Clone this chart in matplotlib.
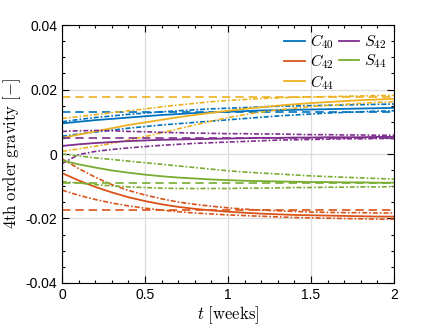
import numpy as np
import matplotlib
matplotlib.use("Agg")
import matplotlib.pyplot as plt
from matplotlib.ticker import MultipleLocator, FixedLocator, FixedFormatter

plt.rcParams['font.family'] = ['Liberation Sans', 'DejaVu Sans']
plt.rcParams['mathtext.fontset'] = 'cm'
plt.rcParams['axes.unicode_minus'] = False

## time samples [weeks]
t = np.linspace(0, 2, 21)

## C40
c40_true = 0.0130
c40_est = [0.0095, 0.0100, 0.0105, 0.0109, 0.0113, 0.0117, 0.0121, 0.0124, 0.0127, 0.0129, 0.0131,
           0.0133, 0.0135, 0.0136, 0.0137, 0.0138, 0.0139, 0.0140, 0.0141, 0.0142, 0.0143]
c40_up = [0.0100, 0.0107, 0.0113, 0.0118, 0.0123, 0.0127, 0.0131, 0.0134, 0.0137, 0.0140, 0.0142,
          0.0144, 0.0146, 0.0148, 0.0149, 0.0150, 0.0151, 0.0152, 0.0153, 0.0154, 0.0155]
c40_lo = [0.0055, 0.0062, 0.0068, 0.0074, 0.0080, 0.0085, 0.0090, 0.0094, 0.0098, 0.0102, 0.0106,
          0.0110, 0.0114, 0.0118, 0.0121, 0.0124, 0.0127, 0.0129, 0.0131, 0.0133, 0.0134]

## C42
c42_true = -0.0174
c42_est = [-0.0059, -0.0082, -0.0102, -0.0119, -0.0134, -0.0146, -0.0156, -0.0164, -0.0170, -0.0175, -0.0179,
           -0.0182, -0.0185, -0.0187, -0.0189, -0.0190, -0.0191, -0.0192, -0.0193, -0.0194, -0.0194]
c42_up = [-0.0015, -0.0045, -0.0072, -0.0095, -0.0113, -0.0127, -0.0139, -0.0149, -0.0156, -0.0162, -0.0167,
          -0.0171, -0.0174, -0.0176, -0.0178, -0.0180, -0.0181, -0.0182, -0.0182, -0.0183, -0.0183]
c42_lo = [-0.0112, -0.0128, -0.0141, -0.0152, -0.0161, -0.0168, -0.0174, -0.0179, -0.0183, -0.0186, -0.0189,
          -0.0191, -0.0193, -0.0195, -0.0197, -0.0198, -0.0199, -0.0200, -0.0201, -0.0202, -0.0202]

## C44
c44_true = 0.0176
c44_est = [0.0050, 0.0060, 0.0070, 0.0080, 0.0090, 0.0098, 0.0106, 0.0114, 0.0121, 0.0128, 0.0134,
           0.0140, 0.0145, 0.0150, 0.0154, 0.0158, 0.0161, 0.0164, 0.0167, 0.0169, 0.0171]
c44_up = [0.0110, 0.0116, 0.0122, 0.0128, 0.0134, 0.0140, 0.0146, 0.0152, 0.0157, 0.0162, 0.0166,
          0.0169, 0.0172, 0.0174, 0.0176, 0.0177, 0.0178, 0.0179, 0.0180, 0.0181, 0.0182]
c44_lo = [0.0008, 0.0016, 0.0024, 0.0033, 0.0043, 0.0054, 0.0066, 0.0078, 0.0090, 0.0102, 0.0113,
          0.0122, 0.0130, 0.0137, 0.0142, 0.0147, 0.0151, 0.0154, 0.0157, 0.0160, 0.0162]

## S42
s42_true = 0.0050
s42_est = [0.0025, 0.0030, 0.0034, 0.0037, 0.0040, 0.0042, 0.0044, 0.0045, 0.0046, 0.0047, 0.0048,
           0.0049, 0.0050, 0.0050, 0.0051, 0.0051, 0.0052, 0.0052, 0.0052, 0.0053, 0.0053]
s42_up = [0.0070, 0.0072, 0.0073, 0.0072, 0.0070, 0.0069, 0.0067, 0.0066, 0.0065, 0.0064, 0.0063,
          0.0063, 0.0062, 0.0062, 0.0061, 0.0060, 0.0060, 0.0059, 0.0059, 0.0058, 0.0058]
s42_lo = [-0.0030, -0.0002, 0.0008, 0.0014, 0.0019, 0.0023, 0.0027, 0.0030, 0.0033, 0.0035, 0.0037,
          0.0039, 0.0041, 0.0043, 0.0044, 0.0045, 0.0046, 0.0047, 0.0047, 0.0048, 0.0048]

## S44 (first two samples: initial filter transient, off the scale)
s44_true = -0.0090
s44_init = [0.5, -0.5]
s44_est = [-0.0020, -0.0032, -0.0042, -0.0051, -0.0058, -0.0064, -0.0069, -0.0073, -0.0076, -0.0079, -0.0081,
           -0.0083, -0.0084, -0.0085, -0.0086, -0.0087, -0.0087, -0.0088, -0.0088, -0.0089, -0.0089]
s44_up = [0.0000, -0.0006, -0.0012, -0.0017, -0.0022, -0.0027, -0.0032, -0.0037, -0.0042, -0.0047, -0.0052,
          -0.0056, -0.0059, -0.0062, -0.0065, -0.0068, -0.0070, -0.0072, -0.0074, -0.0076, -0.0078]
s44_lo = [-0.0086, -0.0090, -0.0095, -0.0099, -0.0102, -0.0104, -0.0106, -0.0107, -0.0107, -0.0107, -0.0107,
          -0.0106, -0.0106, -0.0105, -0.0104, -0.0104, -0.0103, -0.0103, -0.0102, -0.0102, -0.0101]

names = [r'$C_{40}$', r'$C_{42}$', r'$C_{44}$', r'$S_{42}$', r'$S_{44}$']
colors = ['#0072BD', '#D95319', '#EDB120', '#7E2F8E', '#77AC30']

fig = plt.figure(figsize=(4.36, 3.27), dpi=100)
ax = fig.add_axes([0.1422, 0.1346, 0.7615, 0.7889])

series = [(c40_est, c40_up, c40_lo, c40_true),
          (c42_est, c42_up, c42_lo, c42_true),
          (c44_est, c44_up, c44_lo, c44_true),
          (s42_est, s42_up, s42_lo, s42_true),
          (s44_est, s44_up, s44_lo, s44_true)]

handles = []
for (est, up, lo, true), col, name in zip(series, colors, names):
    ax.plot(t, up, color=col, lw=1.2, dashes=(3, 1.2, 1, 1.2))
    ax.plot(t, lo, color=col, lw=1.2, dashes=(3, 1.2, 1, 1.2))
    ax.plot([t[0], t[-1]], [true, true], color=col, lw=1.2, dashes=(5, 3))
    h, = ax.plot(t, est, color=col, lw=1.3, label=name)
    handles.append(h)

# S44 start-up transient at t = 0
ax.plot(np.r_[t[0], t[0], t[0]], np.r_[s44_init, s44_est[0]], color=colors[4], lw=1.5)

ax.set_xlim(0, 2)
ax.set_ylim(-0.04, 0.04)
ax.xaxis.set_major_locator(FixedLocator([0, 0.5, 1, 1.5, 2]))
ax.xaxis.set_major_formatter(FixedFormatter(['0', '0.5', '1', '1.5', '2']))
ax.yaxis.set_major_locator(FixedLocator([-0.04, -0.02, 0, 0.02, 0.04]))
ax.yaxis.set_major_formatter(FixedFormatter(['-0.04', '-0.02', '0', '0.02', '0.04']))
ax.xaxis.set_minor_locator(MultipleLocator(0.1))
ax.yaxis.set_minor_locator(MultipleLocator(0.005))
ax.tick_params(which='both', direction='in', top=True, right=True, labelsize=10, width=0.8)
ax.tick_params(which='major', length=5)
ax.tick_params(which='minor', length=2.5)
ax.grid(True, which='major', color='#dcdcdc', lw=0.9)
ax.set_axisbelow(True)
for s in ax.spines.values():
    s.set_linewidth(0.8)

ax.set_xlabel(r'$t\ \mathrm{[weeks]}$', fontsize=12, labelpad=2)
ax.set_ylabel(r'$\mathrm{4th\ order\ gravity}\ [-]$', fontsize=12, labelpad=1.5)

ax.legend(handles=handles, loc='upper right', ncol=2, frameon=False, fontsize=11.5,
          handlelength=1.3, handletextpad=0.3, columnspacing=0.3, labelspacing=0.1,
          borderaxespad=0.0, borderpad=0.45)

fig.savefig('out.png', dpi=100)
